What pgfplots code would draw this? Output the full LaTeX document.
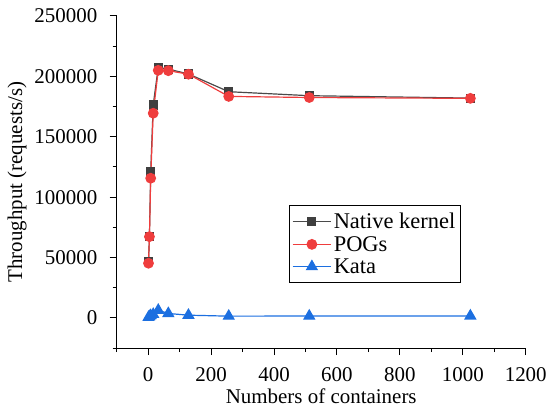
\documentclass[border=0pt]{standalone}
\usepackage{pgfplots}
\pgfplotsset{compat=1.18}
\usepackage{fontspec}
\setmainfont{Liberation Serif}

\definecolor{nativegray}{HTML}{4A4A4A}
\definecolor{pogsred}{HTML}{EF3D3D}
\definecolor{katablue}{HTML}{1C6FE0}

\begin{document}
\begin{tikzpicture}
\begin{axis}[
    scale only axis,
    width=410pt, height=333pt,
    xmin=-100, xmax=1200,
    ymin=-25000, ymax=250000,
    axis lines*=left,
    axis line style={line width=1pt},
    tick style={line width=1pt, black},
    tick align=outside,
    major tick length=7pt, minor tick length=4pt,
    xtick={0,200,...,1200},
    minor xtick={-100,100,...,1100},
    ytick={0,50000,...,250000},
    minor ytick={-25000,25000,...,225000},
    scaled y ticks=false,
    yticklabel style={/pgf/number format/fixed, /pgf/number format/1000 sep={}},
    xticklabel style={/pgf/number format/1000 sep={}},
    xticklabel shift=9pt, yticklabel shift=9pt,
    /pgf/number format/assume math mode=true,
    font=\fontsize{21}{24}\selectfont,
    xlabel={Numbers of containers},
    ylabel={Throughput (requests/s)},
    xlabel style={yshift=0pt},
    ylabel style={yshift=1pt},
    legend style={at={(rel axis cs:0.42,0.432)}, anchor=north west,
        draw=black, line width=1pt, fill=white,
        font=\fontsize{22.5}{25}\selectfont,
        row sep=2pt, inner xsep=3pt, inner ysep=6pt},
    legend cell align=left,
    legend image post style={line width=1.2pt},
    legend image code/.code={
        \draw[mark repeat=2, mark phase=2, #1]
        plot coordinates {(0cm,0cm) (0.68cm,0cm) (1.36cm,0cm)};},
]
\addplot[color=nativegray, line width=1.2pt, mark=square*, mark size=4pt,
    mark options={fill=nativegray!85!black, draw=nativegray!85!black}]
    coordinates {
    (1,46500) (4,67300) (8,120800) (16,176300) (32,207500) (64,206000)
    (128,202000) (256,187300) (512,184000) (1024,182000)
};
\addlegendentry{Native kernel}

\addplot[color=pogsred, line width=1.2pt, mark=*, mark size=4.8pt,
    mark options={fill=pogsred, draw=pogsred}]
    coordinates {
    (1,45300) (4,67300) (8,115700) (16,169500) (32,205000) (64,204700)
    (128,201800) (256,183400) (512,182500) (1024,181800)
};
\addlegendentry{POGs}

\addplot[color=katablue, line width=1.2pt, mark=triangle*, mark size=6pt,
    mark options={fill=katablue, draw=katablue}]
    coordinates {
    (1,500) (4,1200) (8,2000) (16,3000) (32,6400) (64,3700)
    (128,2300) (256,1500) (512,1600) (1024,1700)
};
\addlegendentry{Kata}
\end{axis}
\path (current axis.south west) ++(-117pt,-59pt) coordinate (bbsw);
\path (current axis.north east) ++(23pt,16pt) coordinate (bbne);
\path[use as bounding box] (bbsw) rectangle (bbne);
\end{tikzpicture}
\end{document}
